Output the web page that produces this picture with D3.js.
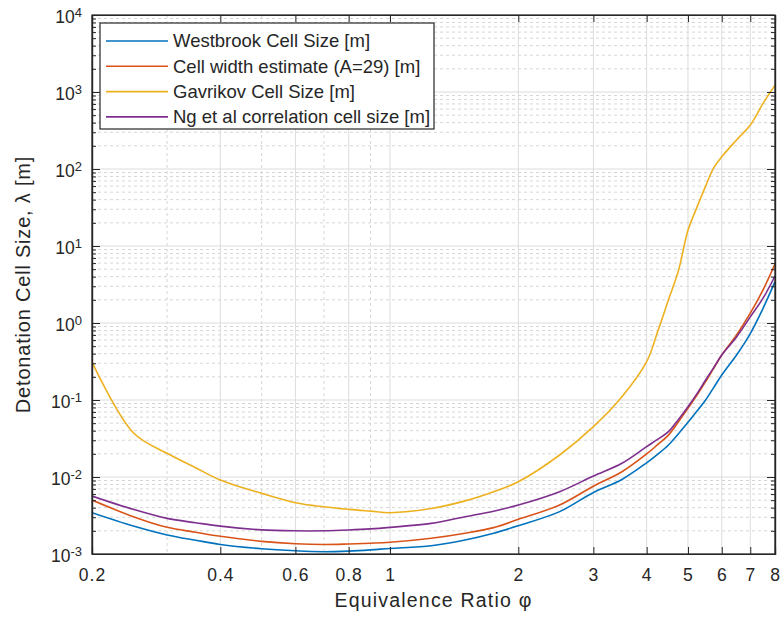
<html>
	<head>
		<meta charset="UTF-8">
		<title>Detonation Cell Size</title>
		<script src="https://d3js.org/d3.v7.min.js"></script>
	<style>
  body{
      margin: 0;
      background: #fff;
    }
  svg{
      display: block;
      font-family: "Liberation Sans", Arial, sans-serif;
    }
		</style>
	</head>
	<body>
		<script type = "text/javascript">
			// data
			var phi = [0.2,0.25,0.3,0.35,0.4,0.5,0.6,0.7,0.8,0.9,1,1.25,1.5,1.75,2,2.5,3,3.5,4,4.25,4.5,4.75,5,5.25,5.5,5.75,6,6.5,7,7.5,8];
			var westbrook = [0.00344,0.00231,0.00177,0.00151,0.00133,0.00117,0.0011,0.00107,0.00109,0.00113,0.00118,0.00128,0.00152,0.00186,0.00233,0.00355,0.0063,0.0093,0.0153,0.0198,0.026,0.0365,0.0513,0.072,0.1,0.146,0.211,0.384,0.73,1.55,3.44];
			var cellWidth = [0.00502,0.00305,0.00222,0.00192,0.0017,0.00146,0.00136,0.00133,0.00135,0.00138,0.00142,0.0016,0.00186,0.0022,0.00282,0.00433,0.0076,0.0117,0.0199,0.0265,0.035,0.052,0.078,0.116,0.173,0.26,0.384,0.70,1.34,2.7,5.83];
			var gavrikov = [0.31,0.0376,0.0203,0.0132,0.00914,0.00613,0.00464,0.0041,0.0038,0.0036,0.00344,0.0039,0.0049,0.00645,0.00868,0.0193,0.045,0.11,0.314,0.79,2.0,4.8,16,32,60,104,144,238,372,713,1230];
			var ng = [0.00566,0.0038,0.0029,0.00255,0.0023,0.00206,0.002,0.002,0.00205,0.00212,0.00222,0.0025,0.00305,0.0036,0.00433,0.00645,0.0103,0.0151,0.0248,0.031,0.0388,0.056,0.0818,0.121,0.182,0.265,0.384,0.66,1.2,2.1,4.07];
			var seriesNames = ["Westbrook Cell Size [m]","Cell width estimate (A=29) [m]","Gavrikov Cell Size [m]","Ng et al correlation cell size [m]"];
			var xTicks = [0.2,0.4,0.6,0.8,1,2,3,4,5,6,7,8];
			var yTicks = [1e-3,1e-2,1e-1,1,1e1,1e2,1e3,1e4];

			var width = 782;
			var height = 628;
			var plotL = 92, plotR = 775, plotT = 15, plotB = 554;
			var colors = ["#0072BD","#D95319","#EDB120","#7E2F8E"];
			var textColor = "#262626";

			var svg = d3.select("body")
						.append("svg")
						.attr("width",width)
						.attr("height",height);

			var x = d3.scaleLog().domain([0.2,8]).range([plotL,plotR]);
			var y = d3.scaleLog().domain([1e-3,1e4]).range([plotB,plotT]);

			// minor grid positions
			var xMinor = [];
			[0.1,1].forEach(function(p){
				for(var k=2;k<=9;k++){
					var v = +(k*p).toFixed(3);
					if(v>=0.2 && v<=8 && xTicks.indexOf(v)<0) xMinor.push(v);
				}
			});
			var yMinor = [];
			for(var e=-3;e<4;e++){
				for(var k=2;k<=9;k++) yMinor.push(k*Math.pow(10,e));
			}

			var grid = svg.append("g");
			grid.selectAll(".xminor").data(xMinor).enter().append("line")
				.attr("x1",function(d){return x(d)}).attr("x2",function(d){return x(d)})
				.attr("y1",plotT).attr("y2",plotB)
				.attr("stroke","#d6d6d6").attr("stroke-dasharray","3,3");
			grid.selectAll(".yminor").data(yMinor).enter().append("line")
				.attr("y1",function(d){return y(d)}).attr("y2",function(d){return y(d)})
				.attr("x1",plotL).attr("x2",plotR)
				.attr("stroke","#d6d6d6").attr("stroke-dasharray","3,3");
			grid.selectAll(".xmajor").data(xTicks).enter().append("line")
				.attr("x1",function(d){return x(d)}).attr("x2",function(d){return x(d)})
				.attr("y1",plotT).attr("y2",plotB)
				.attr("stroke","#dcdcdc");
			grid.selectAll(".ymajor").data(yTicks).enter().append("line")
				.attr("y1",function(d){return y(d)}).attr("y2",function(d){return y(d)})
				.attr("x1",plotL).attr("x2",plotR)
				.attr("stroke","#dcdcdc");

			// curves
			var allSeries = [westbrook,cellWidth,gavrikov,ng];
			var line = d3.line()
				.x(function(d,i){return x(phi[i])})
				.y(function(d){return y(d)})
				.curve(d3.curveCatmullRom.alpha(0.5));
			svg.append("clipPath").attr("id","clip")
				.append("rect").attr("x",plotL).attr("y",plotT)
				.attr("width",plotR-plotL).attr("height",plotB-plotT);
			svg.append("g").attr("clip-path","url(#clip)")
				.selectAll("path").data(allSeries).enter().append("path")
				.attr("d",line)
				.attr("fill","none")
				.attr("stroke",function(d,i){return colors[i]})
				.attr("stroke-width",1.6);

			// axes, ticks inside
			var xAxis = svg.append("g").attr("transform","translate(0,"+plotB+")")
				.call(d3.axisBottom(x).tickValues(xTicks).tickSize(-7).tickPadding(15)
					.tickFormat(function(d){return d3.format("~g")(d)}));
			svg.append("g").attr("transform","translate(0,"+plotT+")")
				.call(d3.axisTop(x).tickValues(xTicks).tickSize(-7).tickFormat(""));
			var yAxis = svg.append("g").attr("transform","translate("+plotL+",0)")
				.call(d3.axisLeft(y).tickValues(yTicks).tickSize(-8).tickPadding(10));
			svg.append("g").attr("transform","translate("+plotR+",0)")
				.call(d3.axisRight(y).tickValues(yTicks).tickSize(-8).tickFormat(""));
			svg.append("g").attr("transform","translate("+plotL+",0)")
				.call(d3.axisLeft(y).tickValues(yMinor).tickSize(-4).tickFormat(""));
			svg.append("g").attr("transform","translate("+plotR+",0)")
				.call(d3.axisRight(y).tickValues(yMinor).tickSize(-4).tickFormat(""));

			svg.selectAll(".domain").attr("stroke",textColor).attr("stroke-width",1.2);
			svg.selectAll(".tick line").attr("stroke",textColor);

			xAxis.selectAll("text")
				.attr("fill",textColor)
				.style("font-size","17.5px")
				.style("letter-spacing","1px")
				.style("font-family","Liberation Sans, Arial, sans-serif");

			yAxis.selectAll("text").each(function(d){
				var t = d3.select(this);
				var ex = Math.round(Math.log10(d));
				t.text(null)
					.attr("fill",textColor)
					.attr("dy","0.45em")
					.style("font-size","17.5px")
					.style("font-family","Liberation Sans, Arial, sans-serif");
				t.append("tspan").text("10");
				t.append("tspan").attr("dy","-0.5em").style("font-size","13px").text(ex);
			});

			// outer box
			svg.append("rect").attr("x",plotL).attr("y",plotT)
				.attr("width",plotR-plotL).attr("height",plotB-plotT)
				.attr("fill","none").attr("stroke",textColor).attr("stroke-width",1.2);

			// axis labels
			svg.append("text")
				.attr("x",(plotL+plotR)/2).attr("y",607)
				.attr("text-anchor","middle")
				.attr("fill",textColor)
				.style("font-size","19.5px")
				.style("letter-spacing","1.2px")
				.text("Equivalence Ratio \u03c6");
			svg.append("text")
				.attr("transform","translate(30,"+((plotT+plotB)/2)+") rotate(-90)")
				.attr("text-anchor","middle")
				.attr("fill",textColor)
				.style("font-size","20px")
				.style("letter-spacing","0.8px")
				.text("Detonation Cell Size, \u03bb [m]");

			// legend
			var legend = svg.append("g");
			legend.append("rect")
				.attr("x",100).attr("y",23)
				.attr("width",334).attr("height",106)
				.attr("fill","#fff").attr("stroke",textColor).attr("stroke-width",1.2);
			var items = legend.selectAll(".item").data(seriesNames).enter().append("g")
				.attr("transform",function(d,i){return "translate(0,"+(41+i*25.3)+")"});
			items.append("line")
				.attr("x1",106).attr("x2",168)
				.attr("stroke",function(d,i){return colors[i]})
				.attr("stroke-width",1.6);
			items.append("text")
				.attr("x",173).attr("dy","0.35em")
				.attr("fill",textColor)
				.style("font-size","18.5px")
				.text(function(d){return d});
		</script>
	</body>
</html>
